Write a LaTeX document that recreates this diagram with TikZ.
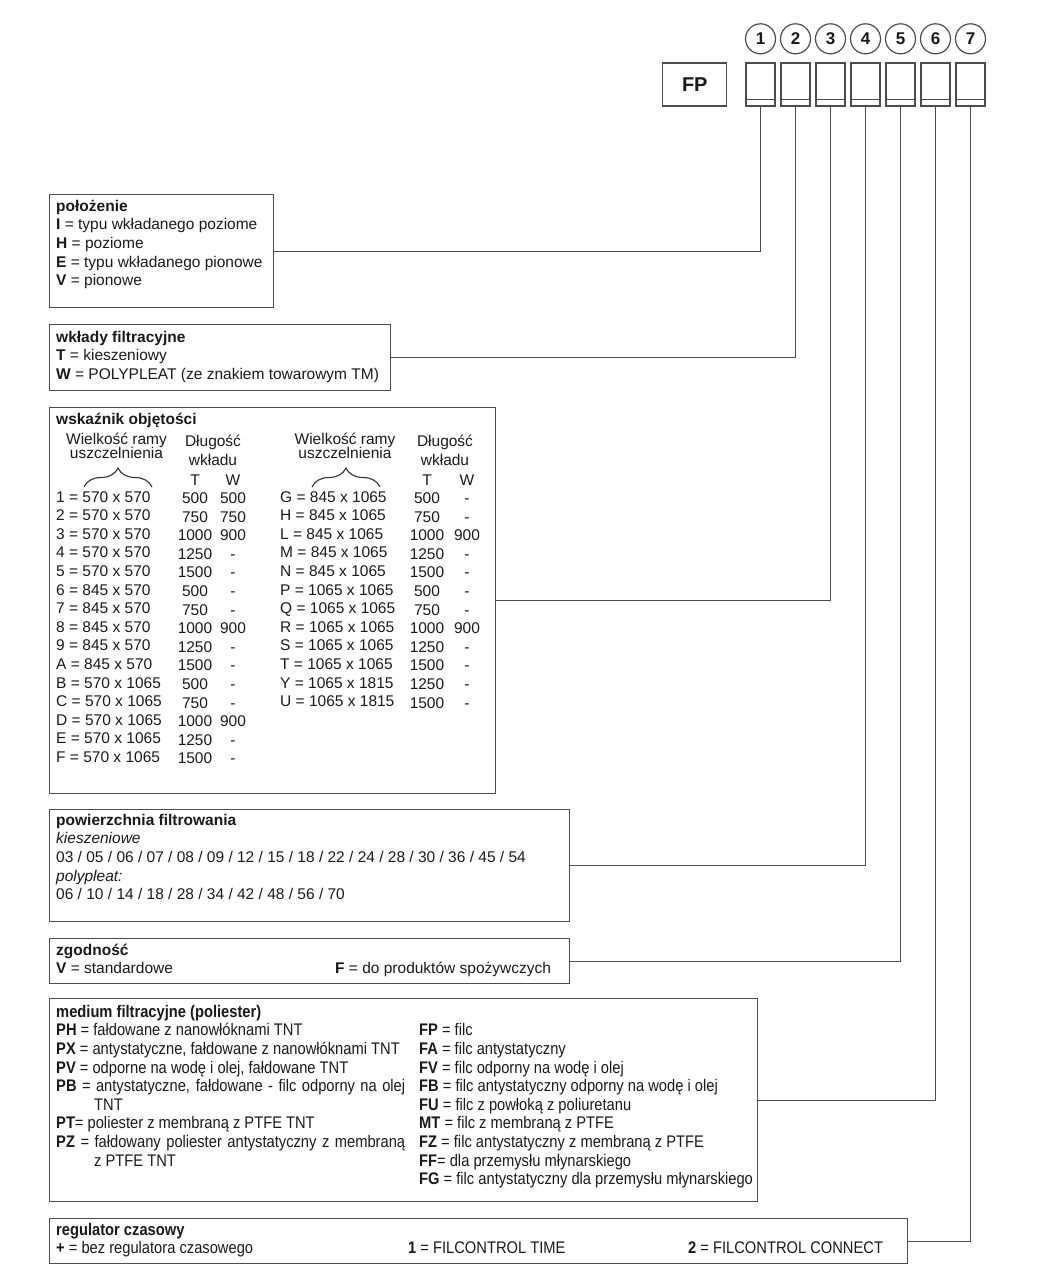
\documentclass[tikz,border=0pt]{standalone}
\usepackage{fontspec}
\setmainfont{Liberation Sans}
\newfontfamily\narrowfont[FakeStretch=0.875]{Liberation Sans}
\usetikzlibrary{positioning,decorations.pathreplacing}

\tikzset{
  frame/.style={draw=black!70,line width=1.2pt,inner sep=0pt,anchor=north west},
  conn/.style={draw=black!70,line width=1pt},
  txt/.style={anchor=north west,inner sep=0pt,align=left,text=black!90,
    font=\fontsize{15.5}{18.6}\selectfont},
  ntxt/.style={txt,font=\narrowfont\fontsize{16.8}{18.6}\selectfont},
  cell/.style={inner sep=0pt,text=black!90,font=\fontsize{15.5}{18.6}\selectfont},
  codebox/.style={draw=black!70,line width=1.2pt,minimum width=29pt,
    minimum height=43pt,inner sep=0pt},
  num/.style={circle,draw=black!70,line width=1.2pt,minimum size=30pt,inner sep=0pt,
    text=black!90,font=\bfseries\fontsize{17}{17}\selectfont},
  brc/.style={draw=black!80,line width=1.1pt,decorate,decoration={brace,amplitude=19pt}}
}

\begin{document}
\begin{tikzpicture}[x=1pt,y=-1pt]
  \useasboundingbox (0,0) rectangle (1059,1278);

  % code fields
  \foreach \i in {1,...,7} {
    \node[codebox] (c\i) at ({760.5+35*(\i-1)},84.5) {};
    \draw[black!70,line width=1pt] ([yshift=7pt]c\i.south west) -- ([yshift=7pt]c\i.south east);
    \node[num,above=8pt of c\i] (n\i) {\i};
  }
  \node[draw=black!70,line width=1.2pt,minimum width=64pt,minimum height=43pt,
    text=black!90,font=\bfseries\fontsize{20}{20}\selectfont,left=18pt of c1] (fp) {FP};

  % frames
  \node[frame,minimum width=224pt,minimum height=113pt] (b1) at (49,194) {};
  \node[frame,minimum width=341pt,minimum height=66pt] (b2) at (49,324) {};
  \node[frame,minimum width=446pt,minimum height=386pt] (b3) at (49,407) {};
  \node[frame,minimum width=520pt,minimum height=112pt] (b4) at (49,809) {};
  \node[frame,minimum width=520pt,minimum height=45pt] (b5) at (49,938) {};
  \node[frame,minimum width=708pt,minimum height=203pt] (b6) at (49,998) {};
  \node[frame,minimum width=858pt,minimum height=45pt] (b7) at (49,1218) {};

  % 1
  \node[txt] (t1) at (56,198) {\strut\textbf{położenie}\\
    \textbf{I} = typu wkładanego poziome\\
    \textbf{H} = poziome\\
    \textbf{E} = typu wkładanego pionowe\\
    \textbf{V} = pionowe};

  % 2
  \node[txt] (t2) at (56,329) {\strut\textbf{wkłady filtracyjne}\\
    \textbf{T} = kieszeniowy\\
    \textbf{W} = POLYPLEAT (ze znakiem towarowym TM)};

  % 3
  \node[txt] (t3) at (56,411) {\strut\textbf{wskaźnik objętości}};
  \node[cell,anchor=base] (h1a) at (116.5,444) {Wielkość ramy};
  \node[cell,anchor=base] (h1b) at (116.5,458) {uszczelnienia};
  \node[cell,anchor=base] (h2a) at (213,446) {Długość};
  \node[cell,anchor=base] (h2b) at (213,465) {wkładu};
  \node[cell,anchor=base] (h3a) at (195,485) {T};
  \node[cell,anchor=base] (h3b) at (233,485) {W};
  \node[cell,anchor=base] (h4a) at (345,444) {Wielkość ramy};
  \node[cell,anchor=base] (h4b) at (345,458) {uszczelnienia};
  \node[cell,anchor=base] (h5a) at (445,446) {Długość};
  \node[cell,anchor=base] (h5b) at (445,465) {wkładu};
  \node[cell,anchor=base] (h6a) at (427,485) {T};
  \node[cell,anchor=base] (h6b) at (467,485) {W};
  \draw[brc] (84,487) -- (152,487);
  \draw[brc] (312,487) -- (380,487);

  \foreach \lbl/\vT/\vW [count=\r] in {1 = 570 x 570/500/500, 2 = 570 x 570/750/750,
      3 = 570 x 570/1000/900, 4 = 570 x 570/1250/-, 5 = 570 x 570/1500/-,
      6 = 845 x 570/500/-, 7 = 845 x 570/750/-, 8 = 845 x 570/1000/900,
      9 = 845 x 570/1250/-, A = 845 x 570/1500/-, B = 570 x 1065/500/-,
      C = 570 x 1065/750/-, D = 570 x 1065/1000/900, E = 570 x 1065/1250/-,
      F = 570 x 1065/1500/-} {
    \node[cell,anchor=base west] (la\r) at (56,{502+18.6*(\r-1)}) {\lbl};
    \node[cell,anchor=base] (ta\r) at (195,{503.5+18.6*(\r-1)}) {\vT};
    \node[cell,anchor=base] (wa\r) at (233,{503.5+18.6*(\r-1)}) {\vW};
  }
  \foreach \lbl/\vT/\vW [count=\r] in {G = 845 x 1065/500/-, H = 845 x 1065/750/-,
      L = 845 x 1065/1000/900, M = 845 x 1065/1250/-, N = 845 x 1065/1500/-,
      P = 1065 x 1065/500/-, Q = 1065 x 1065/750/-, R = 1065 x 1065/1000/900,
      S = 1065 x 1065/1250/-, T = 1065 x 1065/1500/-, Y = 1065 x 1815/1250/-,
      U = 1065 x 1815/1500/-} {
    \node[cell,anchor=base west] (lb\r) at (280,{502+18.6*(\r-1)}) {\lbl};
    \node[cell,anchor=base] (tb\r) at (427,{503.5+18.6*(\r-1)}) {\vT};
    \node[cell,anchor=base] (wb\r) at (467,{503.5+18.6*(\r-1)}) {\vW};
  }

  % 4
  \node[txt] (t4) at (56,812) {\strut\textbf{powierzchnia filtrowania}\\
    \textit{kieszeniowe}\\
    03 / 05 / 06 / 07 / 08 / 09 / 12 / 15 / 18 / 22 / 24 / 28 / 30 / 36 / 45 / 54\\
    \textit{polypleat:}\\
    06 / 10 / 14 / 18 / 28 / 34 / 42 / 48 / 56 / 70};

  % 5
  \node[txt] (t5) at (56,942) {\strut\textbf{zgodność}\\
    \makebox[279pt][l]{\textbf{V} = standardowe}\textbf{F} = do produktów spożywczych};

  % 6
  \node[ntxt] (t6) at (56,1004) {\strut\textbf{medium filtracyjne (poliester)}\\
    \textbf{PH} = fałdowane z nanowłóknami TNT\\
    \textbf{PX} = antystatyczne, fałdowane z nanowłóknami TNT\\
    \textbf{PV} = odporne na wodę i olej, fałdowane TNT\\
    \makebox[349pt][s]{\textbf{PB} = antystatyczne, fałdowane - filc odporny na olej}\\
    \hspace*{38pt}TNT\\
    \textbf{PT}= poliester z membraną z PTFE TNT\\
    \makebox[349pt][s]{\textbf{PZ} = fałdowany poliester antystatyczny z membraną}\\
    \hspace*{38pt}z PTFE TNT};
  \node[ntxt] (t6r) at (419,1022.6) {\strut\textbf{FP} = filc\\
    \textbf{FA} = filc antystatyczny\\
    \textbf{FV} = filc odporny na wodę i olej\\
    \textbf{FB} = filc antystatyczny odporny na wodę i olej\\
    \textbf{FU} = filc z powłoką z poliuretanu\\
    \textbf{MT} = filc z membraną z PTFE\\
    \textbf{FZ} = filc antystatyczny z membraną z PTFE\\
    \textbf{FF}= dla przemysłu młynarskiego\\
    \textbf{FG} = filc antystatyczny dla przemysłu młynarskiego};

  % 7
  \node[ntxt] (t7) at (56,1222) {\strut\textbf{regulator czasowy}\\
    \makebox[352pt][l]{\textbf{+} = bez regulatora czasowego}%
    \makebox[280pt][l]{\textbf{1} = FILCONTROL TIME}\textbf{2} = FILCONTROL CONNECT};

  % connectors
  \foreach \i in {1,...,7}
    \draw[conn] (b\i.east) -| (c\i.south);
\end{tikzpicture}
\end{document}
